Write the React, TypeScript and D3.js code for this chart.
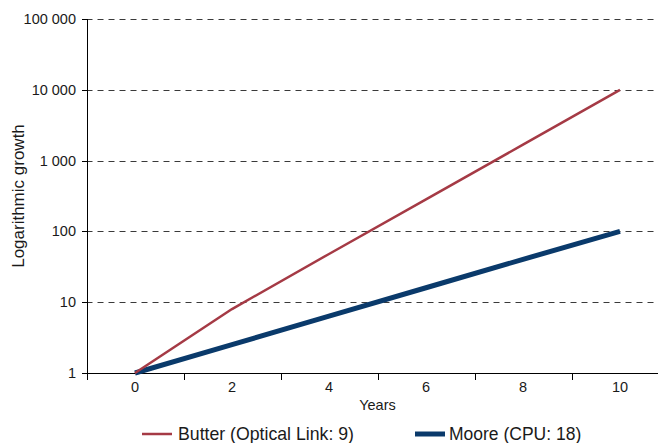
import * as d3 from 'd3';

const width = 658;
const height = 443;

// chart data
const years = ['0', '2', '4', '6', '8', '10'];
const butter = [1, 8, 48, 283, 1680, 10000];
const moore = [1, 2.52, 6.35, 16, 40.3, 100];
const yTicks = [1, 10, 100, 1000, 10000, 100000];
const legendLabels = ['Butter (Optical Link: 9)', 'Moore (CPU: 18)'];

const marginLeft = 86.5;
const marginTop = 19;
const plotBottom = 373;
const band = 97;

const font = '"Liberation Sans", Arial, sans-serif';
const red = '#a53a45';
const blue = '#0a3a6b';

const fmt = d3.formatLocale({
  decimal: '.',
  thousands: ' ',
  grouping: [3],
  currency: ['', ''],
}).format(',');

const App = () => {
  const x = d3
    .scaleBand()
    .domain(years)
    .range([marginLeft, marginLeft + band * years.length]);
  const cx = (d) => x(d) + x.bandwidth() / 2;

  const y = d3.scaleLog().domain([1, 100000]).range([plotBottom, marginTop]);

  const line = d3
    .line()
    .x((d, i) => cx(years[i]))
    .y((d) => y(d));

  const xEnd = marginLeft + band * years.length;

  return (
    <svg
      width={width}
      height={height}
      style={{ position: 'absolute', left: 0, top: 0, background: '#fff' }}
      fontFamily={font}
    >
      {/* grid lines */}
      <g>
        {yTicks.slice(1).map((t) => (
          <line
            key={t}
            x1={marginLeft}
            x2={xEnd}
            y1={Math.round(y(t)) + 0.5}
            y2={Math.round(y(t)) + 0.5}
            stroke="#3a3a3a"
            strokeDasharray="6,5"
          />
        ))}
      </g>

      {/* y axis */}
      <g>
        <line
          x1={87.5}
          x2={87.5}
          y1={marginTop}
          y2={plotBottom + 0.5}
          stroke="#000"
        />
        {yTicks.map((t) => (
          <g key={t}>
            <line
              x1={82}
              x2={87.5}
              y1={Math.round(y(t)) + 0.5}
              y2={Math.round(y(t)) + 0.5}
              stroke="#000"
            />
            <text
              x={76}
              y={y(t)}
              dy="0.35em"
              textAnchor="end"
              fontSize={14.5}
              fill="#1a1a1a"
            >
              {fmt(t)}
            </text>
          </g>
        ))}
        <text
          transform={`translate(24,${(marginTop + plotBottom) / 2}) rotate(-90)`}
          textAnchor="middle"
          fontSize={17}
          fill="#1a1a1a"
        >
          Logarithmic growth
        </text>
      </g>

      {/* x axis */}
      <g>
        <line
          x1={87}
          x2={xEnd}
          y1={plotBottom + 0.5}
          y2={plotBottom + 0.5}
          stroke="#000"
        />
        {years.map((d) => (
          <line
            key={'t' + d}
            x1={Math.round(x(d)) + 0.5}
            x2={Math.round(x(d)) + 0.5}
            y1={plotBottom}
            y2={plotBottom + 7}
            stroke="#000"
          />
        ))}
        {years.map((d) => (
          <text
            key={d}
            x={cx(d)}
            y={387}
            dy="0.35em"
            textAnchor="middle"
            fontSize={14.5}
            fill="#1a1a1a"
          >
            {d}
          </text>
        ))}
        <text
          x={(marginLeft + xEnd) / 2}
          y={405}
          dy="0.35em"
          textAnchor="middle"
          fontSize={14.5}
          fill="#1a1a1a"
        >
          Years
        </text>
      </g>

      {/* series */}
      <path d={line(moore)} fill="none" stroke={blue} strokeWidth={5} />
      <path d={line(butter)} fill="none" stroke={red} strokeWidth={2.5} />

      {/* legend */}
      <g>
        <line x1={142} x2={172} y1={434} y2={434} stroke={red} strokeWidth={2.5} />
        <text x={178} y={434} dy="0.35em" fontSize={17.7} fill="#1a1a1a">
          {legendLabels[0]}
        </text>
        <line x1={415} x2={445} y1={434} y2={434} stroke={blue} strokeWidth={5} />
        <text x={449} y={434} dy="0.35em" fontSize={17.5} fill="#1a1a1a">
          {legendLabels[1]}
        </text>
      </g>
    </svg>
  );
};

export default App;
